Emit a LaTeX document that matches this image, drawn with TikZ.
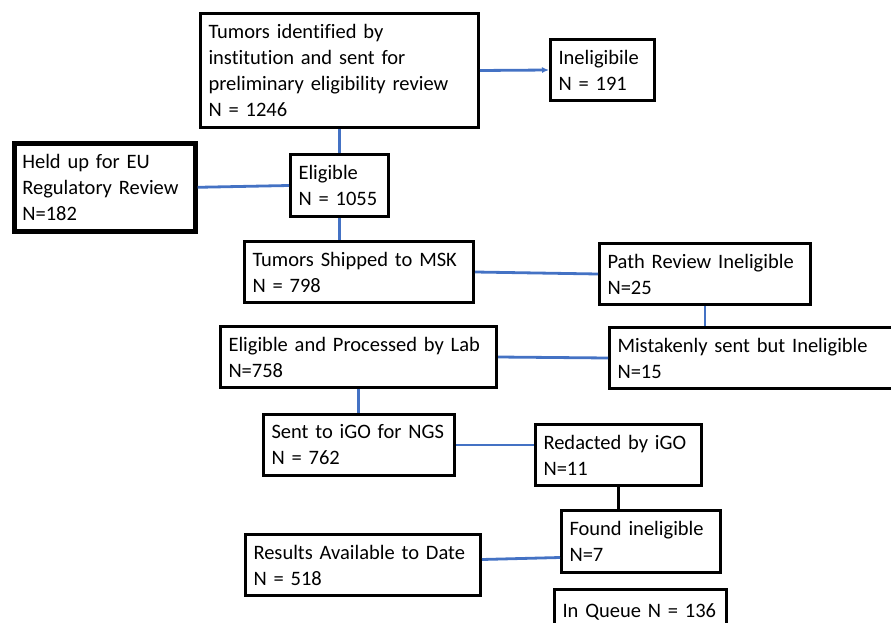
\documentclass[tikz,border=0pt]{standalone}
\usepackage{fontspec}
\setmainfont{Carlito}[Ligatures=CommonOff]
\usetikzlibrary{arrows.meta}
\definecolor{linkblue}{HTML}{4472C4}
\tikzset{
    box/.style={draw=black, line width=3pt, anchor=north west, align=left,
        inner xsep=8pt, inner ysep=0pt, font=\fontsize{20.5}{26}\selectfont},
    link/.style={draw=linkblue, line width=2.8pt},
}

\begin{document}
\begin{tikzpicture}[x=1pt,y=-1pt]
    \useasboundingbox (0,0) rectangle (891,623);
    % Boxes
    \node[box, text width=262pt, minimum height=114pt] (ident) at (199,12) {Tumors identified by\\institution and sent for\\preliminary eligibility review\\N = 1246};
    \node[box, text width=88pt, minimum height=61pt] (inelig) at (549,38) {Ineligibile\\N = 191};
    \node[box, line width=4.6pt, text width=165pt, minimum height=88pt] (held) at (12,141) {Held up for EU\\Regulatory Review\\N=182};
    \node[box, text width=82pt, minimum height=62pt] (elig) at (289,153) {Eligible\\N = 1055};
    \node[box, text width=213pt, minimum height=61pt] (shipped) at (243,240) {Tumors Shipped to MSK\\N = 798};
    \node[box, text width=195pt, minimum height=61pt] (path) at (598,242) {Path Review Ineligible\\N=25};
    \node[box, text width=260pt, minimum height=61pt] (proc) at (219,325) {Eligible and Processed by Lab\\N=758};
    \node[box, text width=284pt, minimum height=61pt] (mistake) at (608,326) {Mistakenly sent but Ineligible\\N=15};
    \node[box, text width=175pt, minimum height=61pt] (sent) at (262,413) {Sent to iGO for NGS\\N = 762};
    \node[box, text width=150pt, minimum height=61pt] (redact) at (534,423) {Redacted by iGO\\N=11};
    \node[box, text width=143pt, minimum height=62pt] (found) at (560,509) {Found ineligible\\N=7};
    \node[box, text width=219pt, minimum height=61pt] (results) at (244,533) {Results Available to Date\\N = 518};
    \node[box, text width=156pt, minimum height=44pt] (queue) at (553,588) {In Queue N = 136};
    % Connectors
    \draw[link, -{Latex[length=7pt,width=6pt]}] (ident.east) -- (inelig.west);
    \draw[link] (ident.south) -- (elig.north);
    \draw[link] (held.east) -- (elig.west);
    \draw[link] (elig.south) -- (elig.south |- shipped.north);
    \draw[link] (shipped.east) -- (path.west);
    \draw[link] (path.south) -- (path.south |- mistake.north);
    \draw[link] (proc.east) -- (mistake.west);
    \draw[link] (proc.south) -- (proc.south |- sent.north);
    \draw[link] (sent.east) -- (sent.east -| redact.west);
    \draw[line width=3pt] (redact.south) -- (redact.south |- found.north);
    \draw[link] ([yshift=5.5pt]results.east) -- ([yshift=-16pt]found.west);
\end{tikzpicture}
\end{document}
